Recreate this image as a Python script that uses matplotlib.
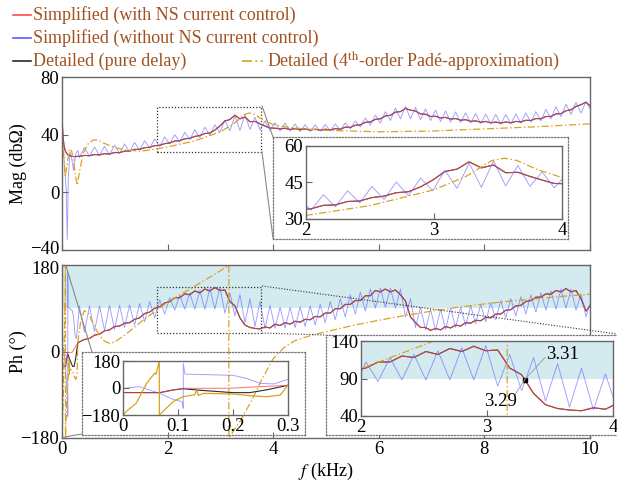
import numpy as np
import matplotlib
matplotlib.use('Agg')
from matplotlib import pyplot as plt
from matplotlib.lines import Line2D
from matplotlib.patches import Rectangle
import matplotlib.transforms as mtransforms

plt.rcParams['font.family'] = ['Liberation Serif', 'DejaVu Serif']
plt.rcParams['mathtext.fontset'] = 'stix'

W, H = 617, 482

# ---------------- data ----------------
# frequency grid (kHz) on which the ripple of the curves was read, half a ripple period apart
f_grid = np.round(np.arange(0.33, 10.0, 0.095), 3)

# magnitude (dB ohm), below 0.33 kHz
f_mag_low = [0, 0.01, 0.02, 0.04, 0.06, 0.08, 0.10, 0.12, 0.15, 0.19, 0.22, 0.26, 0.30]
mag_red_low = [55, 45, 38, 32, 29, 27.5, 26.5, 26, 25.5, 25, 24.8, 24.8, 25]
mag_blue_low = [45, 38, 30, 22, 12, 2, -33, 10, 28, 22, 15, 27, 29]

mag_red_grid = [25.0, 25.6, 25.4, 26.2, 26.0, 26.8, 26.6, 27.6, 27.5, 28.6,
                28.6, 29.8, 29.8, 31.0, 31.2, 32.4, 32.6, 33.8, 34.2, 35.6,
                35.8, 37.2, 37.4, 38.8, 39.4, 40.8, 41.2, 43.2, 46.0, 49.5,
                50.5, 53.5, 51.0, 52.2, 49.0, 49.2, 47.5, 46.0, 44.6, 44.5,
                44.0, 44.4, 43.6, 44.2, 43.4, 44.0, 43.2, 43.8, 43.0, 43.8,
                43.2, 44.2, 43.8, 45.2, 45.0, 46.6, 46.8, 48.6, 48.8, 50.6,
                51.0, 53.0, 53.4, 55.6, 56.0, 58.2, 57.0, 56.4, 54.4, 54.2,
                52.6, 52.8, 51.6, 52.0, 50.8, 51.2, 50.0, 50.4, 49.2, 49.6,
                48.6, 49.2, 48.2, 48.8, 48.0, 48.8, 48.2, 49.2, 48.8, 50.0,
                49.8, 51.2, 51.0, 52.6, 52.6, 54.4, 54.6, 56.6, 57.2, 59.6,
                60.8, 62.5]
mag_blue_grid = [24.0, 31.0, 25.0, 31.5, 25.5, 32.0, 26.0, 32.8, 27.0, 33.6,
                 28.0, 34.6, 29.2, 35.8, 30.6, 37.0, 32.0, 38.4, 33.6, 40.0,
                 35.0, 41.6, 36.6, 43.4, 38.0, 45.2, 39.6, 46.8, 41.6, 50.0,
                 42.6, 53.0, 43.0, 53.8, 43.6, 52.0, 43.4, 49.4, 42.8, 48.4,
                 42.6, 48.0, 42.4, 47.4, 42.2, 47.0, 42.2, 46.8, 42.4, 47.0,
                 42.6, 47.4, 43.0, 48.2, 44.0, 49.6, 45.4, 51.6, 46.6, 53.6,
                 48.0, 56.0, 49.8, 58.4, 51.0, 59.6, 51.0, 59.0, 50.4, 57.8,
                 49.8, 57.0, 49.2, 56.4, 48.8, 55.8, 48.4, 55.2, 48.0, 54.6,
                 47.8, 54.2, 47.6, 54.0, 47.4, 54.0, 47.6, 54.4, 48.0, 55.0,
                 48.6, 56.0, 49.6, 57.6, 51.0, 59.4, 52.6, 61.2, 54.0, 62.4,
                 55.0, 63.0]

f_gold_mag = [0, 0.03, 0.06, 0.10, 0.14, 0.18, 0.22, 0.26, 0.29, 0.33, 0.40, 0.50,
              0.60, 0.70, 0.80, 1.0, 1.2, 1.5, 2.0, 2.5, 3.0, 3.25, 3.45, 3.55,
              3.65, 3.8, 4.0, 4.3, 4.6, 5.0, 6.0, 7.0, 8.0, 9.0, 10.0]
mag_gold = [38, 28, 11, 20, 30, 29, 22, 10, 5, 14, 27, 34,
            36.5, 36, 34, 31, 29.5, 28.5, 31.5, 35.5, 42, 47.5, 54, 55,
            54, 50.5, 47, 45, 44, 43, 42, 42.5, 44, 45.5, 47.5]

# phase (deg), below 0.33 kHz
f_red_ph_low = [0, 0.003, 0.067, 0.091, 0.11, 0.19, 0.25, 0.30]
ph_red_low = [-30, -31, -31, -13, -2, -2, 9, 18]
f_black_ph_low = [0, 0.067, 0.091, 0.11, 0.14, 0.20, 0.23, 0.26, 0.30]
ph_black_low = [-30, -31, -13, -5, -15, -31, -31, -13, 18]
f_blue_ph_low = [0, 0.003, 0.03, 0.067, 0.091, 0.108, 0.1095, 0.1096, 0.1126,
                 0.20, 0.225, 0.25, 0.274, 0.30]
ph_blue_low = [0, -2, 9, -36, -76, -91, -135, 164, 93, 84, 64, 31, 27, 58]

ph_red_grid = [20, 25, 27, 34, 36, 43, 45, 52, 53, 59,
               60, 67, 70, 79, 82, 90, 93, 101, 104, 112,
               112, 120, 118, 126, 122, 130, 126, 133, 127, 128,
               104, 95, 70, 55, 50, 48, 47, 51, 49, 57,
               54, 60, 57, 63, 61, 67, 66, 73, 72, 80,
               80, 89, 89, 98, 98, 106, 106, 116, 116, 127,
               124, 130, 124, 128, 118, 105, 72, 60, 50, 50,
               44, 48, 45, 52, 49, 55, 53, 60, 59, 65,
               64, 71, 70, 78, 78, 86, 87, 95, 96, 104,
               106, 113, 113, 120, 119, 127, 124, 131, 124, 127,
               110, 84]
ph_blue_grid = [95, 40, 95, 42, 95, 44, 96, 46, 96, 50,
                97, 55, 100, 62, 104, 70, 108, 78, 112, 86,
                118, 88, 122, 88, 127, 88, 131, 88, 134, 80,
                122, 74, 118, 60, 110, 52, 104, 48, 96, 48,
                92, 49, 92, 50, 93, 52, 95, 55, 98, 60,
                104, 66, 110, 72, 118, 78, 124, 84, 130, 90,
                132, 92, 132, 90, 130, 72, 110, 50, 92, 45,
                88, 44, 88, 46, 90, 50, 92, 54, 95, 58,
                98, 62, 102, 66, 106, 70, 110, 74, 114, 78,
                118, 82, 122, 86, 126, 88, 130, 90, 130, 86,
                120, 72]

f_gold_ph = [0, 0.008, 0.024, 0.043, 0.055, 0.058, 0.060, 0.066, 0.0661, 0.091,
             0.109, 0.130, 0.134, 0.137, 0.146, 0.200, 0.236, 0.262, 0.286, 0.300,
             0.350, 0.420, 0.50, 0.60, 0.70, 0.80, 0.90, 1.00, 1.20, 1.50,
             2.00, 2.50, 3.00, 3.16, 3.161, 3.40, 3.60, 3.80, 4.00, 4.20,
             4.40, 4.70, 5.00, 5.50, 6.00, 6.50, 7.00, 7.50, 8.00, 8.50,
             9.00, 9.50, 10.0]
ph_gold = [-180, -150, -102, 31, 87, 100, 92, 180, -180, -91,
           -58, -45, -15, -50, -36, -40, -53, -58, -47, 20,
           60, 85, 80, 55, 35, 22, 17, 20, 35, 62,
           103, 135, 168, 180, -180, -140, -100, -55, -15, 8,
           22, 33, 41, 54, 65, 75, 84, 92, 99, 105,
           110, 115, 119]

f_mag = np.concatenate([f_mag_low, f_grid, [10.0]])
mag_red = np.concatenate([mag_red_low, mag_red_grid, [60.0]])
mag_black = mag_red  # pure-delay model lies on the simplified one
mag_blue = np.concatenate([mag_blue_low, mag_blue_grid, [58.0]])

f_red_ph = np.concatenate([f_red_ph_low, f_grid, [10.0]])
ph_red = np.concatenate([ph_red_low, ph_red_grid, [95]])
f_black_ph = np.concatenate([f_black_ph_low, f_grid, [10.0]])
ph_black = np.concatenate([ph_black_low, ph_red_grid, [95]])
f_blue_ph = np.concatenate([f_blue_ph_low, f_grid, [10.0]])
ph_blue = np.concatenate([ph_blue_low, ph_blue_grid, [100]])

# ---------------- style ----------------
C_RED = '#ff4a4a'
C_BLUE = '#5a5aff'
C_BLACK = '#2a2a2a'
C_GOLD = '#d9a11c'
C_TXT = '#a3521e'
C_SHADE = '#d3eaee'
C_FRAME = '#666666'
DASHDOT = (0, (6, 2, 1.2, 2))
DOTTED = (0, (1, 1.5))
FS = 13.5


def box(l, t, r, b):
    return [l / W, 1 - b / H, (r - l) / W, (b - t) / H]


def fig_line(fig, x1, y1, x2, y2, **kw):
    fig.add_artist(Line2D([x1 / W, x2 / W], [1 - y1 / H, 1 - y2 / H],
                          transform=fig.transFigure, **kw))


def style(ax, fs=FS):
    for s in ax.spines.values():
        s.set_color(C_FRAME)
        s.set_linewidth(1.0)
    ax.tick_params(direction='in', length=4, width=0.8, color=C_FRAME,
                   labelsize=fs, pad=2)


def outer_box(fig, l, t, r, b, face='white'):
    o = fig.add_axes(box(l, t, r, b))
    o.set_facecolor(face)
    o.set_xticks([])
    o.set_yticks([])
    for s in o.spines.values():
        s.set_color('#777777')
        s.set_linestyle(DOTTED)
        s.set_linewidth(0.9)
    return o


def nudge(label, dy_px):
    off = mtransforms.ScaledTranslation(0, dy_px / 100, fig.dpi_scale_trans)
    label.set_transform(label.get_transform() + off)


def draw_mag(ax, lw=0.8):
    ax.plot(f_mag, mag_black, color=C_BLACK, lw=lw)
    ax.plot(f_mag, mag_red, color=C_RED, lw=lw, alpha=0.7)
    ax.plot(f_mag, mag_blue, color=C_BLUE, lw=lw * 0.8, alpha=0.6)
    ax.plot(f_gold_mag, mag_gold, color=C_GOLD, lw=lw * 1.1, ls=DASHDOT)


def draw_ph(ax, lw=0.8, gold_ls=DASHDOT):
    ax.plot(f_black_ph, ph_black, color=C_BLACK, lw=lw)
    ax.plot(f_red_ph, ph_red, color=C_RED, lw=lw, alpha=0.7)
    ax.plot(f_blue_ph, ph_blue, color=C_BLUE, lw=lw * 0.8, alpha=0.6)
    ax.plot(f_gold_ph, ph_gold, color=C_GOLD, lw=lw * 1.1, ls=gold_ls)


fig = plt.figure(figsize=(W / 100, H / 100), dpi=100)

# ---- legend ----
rows = [(15, C_RED, 'Simplified (with NS current control)'),
        (38, C_BLUE, 'Simplified (without NS current control)'),
        (61, C_BLACK, 'Detailed (pure delay)')]
for y, c, t in rows:
    fig_line(fig, 13, y, 31, y, color=c, lw=1.2)
    fig.text(33 / W, 1 - y / H, t, color=C_TXT, fontsize=13, va='center')
fig_line(fig, 242, 61, 263, 61, color=C_GOLD, lw=1.2, ls=DASHDOT)
fig.text(267 / W, 1 - 61 / H, r'Detailed (4$^{\mathrm{th}}$-order Padé-approximation)',
         color=C_TXT, fontsize=13, va='center')

# ---- magnitude ----
ax1 = fig.add_axes(box(62, 77, 590, 250))
draw_mag(ax1)
ax1.set_xlim(0, 10)
ax1.set_ylim(-40, 80)
ax1.set_yticks([-40, 0, 40, 80])
ax1.set_xticks(range(0, 11, 2))
ax1.set_xticklabels([])
style(ax1)
ax1.set_ylabel('Mag (dbΩ)', fontsize=13)
ax1.yaxis.set_label_coords(-0.066, 0.5)
ax1.add_patch(Rectangle((1.79, 28.1), 1.98, 31.3, fill=False, ls=DOTTED,
                        ec='#333333', lw=0.9))
nudge(ax1.get_yticklabels()[0], 2.5)

# ---- phase ----
ax2 = fig.add_axes(box(62, 265, 590, 438))
ax2.axhspan(90, 180, color=C_SHADE, lw=0)
draw_ph(ax2)
ax2.set_xlim(0, 10)
ax2.set_ylim(-180, 180)
ax2.set_yticks([-180, 0, 180])
ax2.set_xticks(range(0, 11, 2))
style(ax2)
ax2.set_ylabel('Ph (°)', fontsize=13)
ax2.yaxis.set_label_coords(-0.066, 0.5)
ax2.set_xlabel('$f$ (kHz)', fontsize=13, labelpad=2)
ax2.add_patch(Rectangle((1.79, 37.9), 1.98, 96.9, fill=False, ls=DOTTED,
                        ec='#333333', lw=0.9))
nudge(ax2.get_yticklabels()[-1], -2.5)

# ---- magnitude inset 2-4 kHz ----
outer_box(fig, 273, 137, 568, 239)
in1 = fig.add_axes(box(306, 146, 562, 219))
draw_mag(in1)
in1.set_xlim(2, 4)
in1.set_ylim(30, 60)
in1.set_yticks([30, 45, 60])
in1.set_xticks([2, 3, 4])
style(in1)
fig_line(fig, 262, 106, 273, 137, color='#888888', lw=0.8)
fig_line(fig, 262, 152, 273, 238, color='#888888', lw=0.8)

# ---- phase inset 2-4 kHz ----
outer_box(fig, 326, 335, 625, 435)
in2 = fig.add_axes(box(361, 341, 613, 416))
in2.axhspan(90, 140, color=C_SHADE, lw=0)
draw_ph(in2)
in2.set_xlim(2, 4)
in2.set_ylim(40, 140)
in2.set_yticks([40, 90, 140])
in2.set_xticks([2, 3, 4])
style(in2)
in2.plot([3.30], [88.5], 's', ms=2.2, color='k')
in2.plot([3.30, 3.46], [88.5, 118], color='#999999', lw=0.6)
in2.plot([3.30, 3.22], [88.5, 68], color='#999999', lw=0.6)
in2.text(3.47, 122, '3.31', fontsize=FS, va='center')
in2.text(2.98, 60, '3.29', fontsize=FS, va='center')
fig_line(fig, 262, 286, 617, 334, color='#333333', lw=0.8, ls=DOTTED)
fig_line(fig, 262, 333, 326, 335, color='#333333', lw=0.8, ls=DOTTED)

# ---- phase inset 0-0.3 kHz (transparent) ----
outer_box(fig, 82, 352, 305, 435, face='none')
in3 = fig.add_axes(box(123, 361, 288, 415))
in3.set_facecolor('none')
draw_ph(in3, gold_ls='-')
in3.set_xlim(0, 0.3)
in3.set_ylim(-180, 180)
in3.set_yticks([-180, 0, 180])
in3.set_xticks([0, 0.1, 0.2, 0.3])
in3.set_xticklabels(['0', '0.1', '0.2', '0.3'])
style(in3)
fig_line(fig, 66, 266, 92, 352, color='#888888', lw=0.8)
fig_line(fig, 64, 437, 82, 434, color='#888888', lw=0.8)

fig.savefig('out.png', dpi=100)
